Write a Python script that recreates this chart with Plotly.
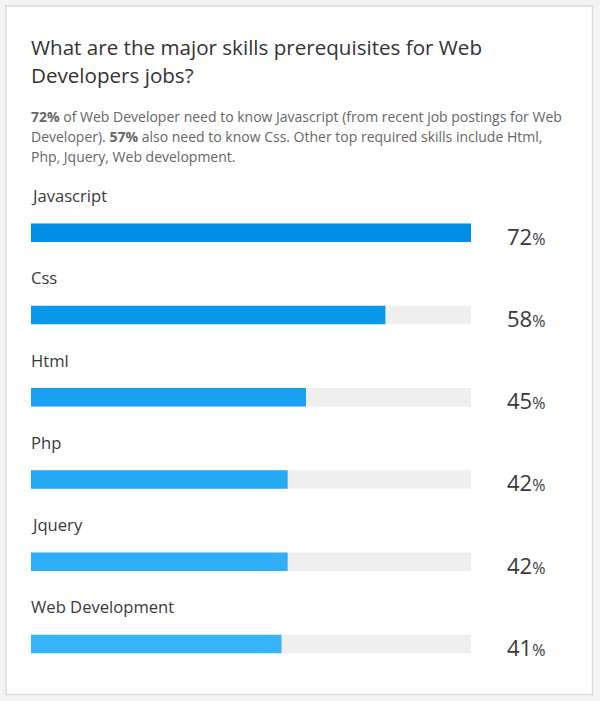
import plotly.graph_objects as go

skills = ["Javascript", "Css", "Html", "Php", "Jquery", "Web Development"]
values = [72, 58, 45, 42, 42, 41]
bar_colors = ["#008fe3", "#0a98ea", "#18a1f0", "#24a9f4", "#2eaff7", "#38b4fa"]
max_val = 72

title_lines = ["What are the major skills prerequisites for Web", "Developers jobs?"]
subtitle_lines = [
    "<b>72%</b> of Web Developer need to know Javascript (from recent job postings for Web",
    "Developer). <b>57%</b> also need to know Css. Other top required skills include Html,",
    "Php, Jquery, Web development.",
]

W, H = 600, 701
FONT = "Open Sans"
fig = go.Figure()

fig.add_trace(go.Bar(
    y=skills, x=[max_val] * len(skills), orientation="h",
    marker=dict(color="#efefef", line=dict(width=0)), width=0.225,
    hoverinfo="skip", showlegend=False,
))
fig.add_trace(go.Bar(
    y=skills, x=values, orientation="h",
    marker=dict(color=bar_colors, line=dict(width=0)), width=0.225,
    showlegend=False,
))

annotations = []
for s, v in zip(skills, values):
    annotations.append(dict(
        x=29 / W, xref="paper", y=s, yref="y", yshift=37,
        text=s, showarrow=False, xanchor="left", yanchor="middle",
        font=dict(family=FONT, size=16.6, color="#3a3a3a"),
    ))
    annotations.append(dict(
        x=505 / W, xref="paper", y=s, yref="y", yshift=-3,
        text=f"{v}<span style='font-size:16px'>%</span>", showarrow=False,
        xanchor="left", yanchor="middle",
        font=dict(family=FONT, size=22, color="#3a3a3a"),
    ))

for i, line in enumerate(title_lines):
    annotations.append(dict(
        x=29 / W, xref="paper", y=1 - (47 + 28 * i) / H, yref="paper",
        text=line, showarrow=False, xanchor="left", yanchor="middle",
        font=dict(family=FONT, size=20.6, color="#333333"),
    ))
for i, line in enumerate(subtitle_lines):
    annotations.append(dict(
        x=29 / W, xref="paper", y=1 - (116 + 20.5 * i) / H, yref="paper",
        text=line, showarrow=False, xanchor="left", yanchor="middle",
        font=dict(family=FONT, size=14, color="#666666"),
    ))

fig.update_layout(
    width=W, height=H,
    margin=dict(l=0, r=0, t=0, b=0),
    paper_bgcolor="#f3f3f3",
    plot_bgcolor="rgba(0,0,0,0)",
    barmode="overlay",
    xaxis=dict(domain=[31 / W, 471 / W], range=[0, max_val], visible=False, fixedrange=True),
    yaxis=dict(domain=[1 - 694.4 / H, 1 - 191.6 / H], autorange="reversed",
               visible=False, fixedrange=True),
    annotations=annotations,
    shapes=[dict(type="rect", xref="paper", yref="paper", layer="below",
                 x0=6 / W, x1=592.5 / W, y0=1 - 694.5 / H, y1=1 - 6 / H,
                 fillcolor="#ffffff", line=dict(color="#dcdcdc", width=1.5))],
)

fig.write_html("out.html")
